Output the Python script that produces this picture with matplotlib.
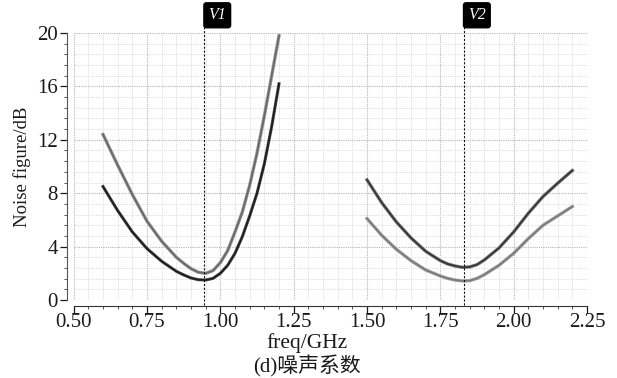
import numpy as np
import matplotlib
matplotlib.use("Agg")
import matplotlib.pyplot as plt
from matplotlib.ticker import MultipleLocator

# left band (0.6 - 1.2 GHz)
freq_lo = [0.60, 0.65, 0.70, 0.75, 0.80, 0.85, 0.875, 0.90, 0.925, 0.95,
           0.975, 1.00, 1.025, 1.05, 1.075, 1.10, 1.125, 1.15, 1.175, 1.20]
nf_lo_a = [12.4, 10.1, 7.9, 5.9, 4.4, 3.2, 2.75, 2.35, 2.08, 2.0,
           2.2, 2.8, 3.7, 5.1, 6.6, 8.6, 11.0, 13.8, 16.8, 19.8]
nf_lo_b = [8.5, 6.7, 5.1, 3.85, 2.9, 2.15, 1.88, 1.65, 1.52, 1.5,
           1.62, 2.0, 2.6, 3.5, 4.75, 6.3, 8.0, 10.2, 13.0, 16.2]

# right band (1.5 - 2.2 GHz)
freq_hi = [1.50, 1.55, 1.60, 1.65, 1.70, 1.75, 1.775, 1.80, 1.825, 1.85,
           1.875, 1.90, 1.95, 2.00, 2.05, 2.10, 2.15, 2.20]
nf_hi_a = [9.0, 7.3, 5.85, 4.65, 3.65, 2.95, 2.7, 2.55, 2.45, 2.48,
           2.65, 3.0, 3.9, 5.1, 6.5, 7.75, 8.75, 9.7]
nf_hi_b = [6.1, 4.85, 3.8, 2.95, 2.25, 1.8, 1.62, 1.5, 1.43, 1.45,
           1.62, 1.9, 2.6, 3.5, 4.6, 5.6, 6.3, 7.0]

markers = [("V1", 0.945), ("V2", 1.83)]

xticks = [0.50, 0.75, 1.00, 1.25, 1.50, 1.75, 2.00, 2.25]
yticks = [0, 4, 8, 12, 16, 20]

plt.rcParams['font.family'] = ['Liberation Serif', 'DejaVu Serif']

fig = plt.figure(figsize=(6.17, 3.78), dpi=100)
ax = fig.add_axes([0.1194, 0.2063, 0.8320, 0.7064])

# curves: light underlay + main trace
ax.plot(freq_lo, nf_lo_a, color="#9a9a9a", lw=2.4)
ax.plot(freq_lo, nf_lo_a, color="#6a6a6a", lw=1.3)
ax.plot(freq_lo, nf_lo_b, color="#555555", lw=2.2)
ax.plot(freq_lo, nf_lo_b, color="#1e1e1e", lw=1.3)
ax.plot(freq_hi, nf_hi_a, color="#7a7a7a", lw=2.4)
ax.plot(freq_hi, nf_hi_a, color="#383838", lw=1.3)
ax.plot(freq_hi, nf_hi_b, color="#a5a5a5", lw=2.4)
ax.plot(freq_hi, nf_hi_b, color="#7c7c7c", lw=1.3)

ax.set_xlim(0.5, 2.25)
ax.set_ylim(0, 20)
ax.set_xticks(xticks)
ax.set_xticklabels(["%.2f" % t for t in xticks])
ax.set_yticks(yticks)
ax.xaxis.set_minor_locator(MultipleLocator(0.05))
ax.yaxis.set_minor_locator(MultipleLocator(0.8))

ax.grid(which="major", color="#b5b5b5", ls=(0, (1, 1)), lw=0.8)
ax.grid(which="minor", color="#dddddd", ls=(0, (1, 1)), lw=0.7)
ax.set_axisbelow(True)

for s in ["top", "right"]:
    ax.spines[s].set_visible(False)
ax.spines["left"].set_position(("outward", 5))
ax.spines["bottom"].set_position(("outward", 4))
ax.spines["left"].set_color("#555555")
ax.spines["bottom"].set_color("#333333")

ax.tick_params(which="major", length=5, width=0.9, labelsize=15, pad=1.5, colors="#1a1a1a")
ax.tick_params(axis="x", which="major", pad=0.5)
ax.tick_params(which="minor", length=2.5, width=0.7, colors="#555555")

ax.set_ylabel("Noise figure/dB", fontsize=13.5, labelpad=4, color="#1a1a1a")

# marker lines
for name, fx in markers:
    ax.axvline(fx, ymin=-0.02, ymax=1.03, color="#111111", lw=0.8, ls=(0, (2, 1.5)), clip_on=False)
    ax.annotate(name, xy=(fx, 1.0), xycoords=("data", "axes fraction"),
                xytext=(3, 7), textcoords="offset points",
                fontsize=11.5, style="italic", color="white", ha="left", va="bottom",
                bbox=dict(boxstyle="round,pad=0.28,rounding_size=0.15", fc="black", ec="black"))

fig.text(0.497, 0.092, "freq/GHz", ha="center", va="center", fontsize=15.5, color="#1a1a1a")
fig.text(0.497, 0.03, "(d)噪声系数", ha="center", va="center", fontsize=15, color="#1a1a1a",
         family=["Liberation Serif", "Noto Sans CJK SC"])

fig.savefig("out.png", dpi=100, facecolor="white")
